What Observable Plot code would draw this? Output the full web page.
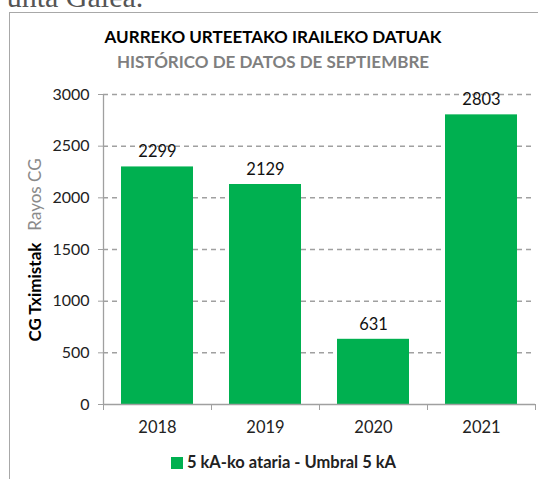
<!DOCTYPE html>
<html>
<head>
<meta charset="utf-8">
<script src="https://cdn.jsdelivr.net/npm/d3@7"></script>
<script src="https://cdn.jsdelivr.net/npm/@observablehq/plot@0.6"></script>
<style>
  html, body { margin: 0; padding: 0; background: #fff; }
  body { width: 539px; height: 479px; position: relative; overflow: hidden; font-family: Lato, "Open Sans", sans-serif; }
  #top { position: absolute; left: -10px; top: -18px; font-family: "Liberation Serif", serif; font-size: 30px; line-height: 30px; color: #555; white-space: nowrap; }
  #frame { position: absolute; left: 9px; top: 12px; width: 528px; height: 480px; border-left: 1.5px solid #a8a8a8; border-top: 1.5px solid #a8a8a8; }
  #title { position: absolute; left: 9px; width: 528px; top: 26px; text-align: center; font-weight: bold; font-size: 17px; color: #000; }
  #subtitle { position: absolute; left: 9px; width: 528px; top: 51px; text-align: center; font-weight: bold; font-size: 17px; color: #7f7f7f; }
  #chart { position: absolute; left: 0; top: 0; }
  #legend { position: absolute; left: 14px; width: 539px; top: 452px; text-align: center; font-size: 16.5px; font-weight: bold; color: #222; }
  #legend .sw { display: inline-block; width: 12px; height: 12px; background: #00b050; margin-right: 4px; vertical-align: -1px; }
</style>
</head>
<body>
<div id="top">Punta Galea.</div>
<div id="frame"></div>
<div id="title">AURREKO URTEETAKO IRAILEKO DATUAK</div>
<div id="subtitle">HISTÓRICO DE DATOS DE SEPTIEMBRE</div>
<div id="chart"></div>
<div id="legend"><span class="sw"></span>5 kA-ko ataria - Umbral 5 kA</div>
<script>
const years = [2018, 2019, 2020, 2021];
const values = [2299, 2129, 631, 2803];
const yTicks = [0, 500, 1000, 1500, 2000, 2500, 3000];
const seriesName = "5 kA-ko ataria - Umbral 5 kA";

const data = years.map((y, i) => ({year: y, value: values[i]}));
const bounds = years.map(y => y - 0.5).concat([years[years.length - 1] + 0.5]);
const green = "#00b050";
const axisGray = "#a0a0a0";
const font = "Lato, 'Open Sans', sans-serif";

const plot = Plot.plot({
  width: 539,
  height: 479,
  marginTop: 94,
  marginBottom: 75,
  marginLeft: 103,
  marginRight: 4,
  style: {fontFamily: font, background: "transparent", overflow: "visible"},
  x: {domain: [bounds[0], bounds[bounds.length - 1]]},
  y: {domain: [0, 3000]},
  marks: [
    Plot.gridY(yTicks.filter(d => d > 0), {stroke: "#a0a0a0", strokeOpacity: 1, strokeDasharray: "5,4", strokeWidth: 1.5}),
    Plot.rectY(data, {x1: d => d.year - 0.5, x2: d => d.year + 0.5, y: "value", fill: green, insetLeft: 18, insetRight: 18}),
    Plot.ruleY([0], {stroke: axisGray, strokeWidth: 1.3}),
    Plot.ruleX([bounds[0]], {stroke: axisGray, strokeWidth: 1.3}),
    Plot.axisY({ticks: yTicks, tickSize: 5, stroke: axisGray, tickPadding: 9, fontSize: 16, fill: "#222", tickFormat: d => String(d), label: null}),
    Plot.axisX({ticks: bounds, tickSize: 6, stroke: axisGray, tickFormat: () => "", label: null}),
    Plot.axisX({ticks: years, tickSize: 0, tickPadding: 17, fontSize: 16.5, fill: "#222", tickFormat: d => String(d), label: null}),
    Plot.text(data, {x: "year", y: "value", text: d => String(d.value), dy: -15, fontSize: 16.5, fill: "#111"})
  ]
});
document.getElementById("chart").appendChild(plot);

// two-tone rotated y-axis title
const svg = d3.select(plot);
const t = svg.append("text")
  .attr("transform", "translate(41,250) rotate(-90)")
  .attr("text-anchor", "middle")
  .attr("font-size", 17)
  .attr("font-family", font);
t.append("tspan").attr("font-weight", "bold").attr("fill", "#000").text("CG Tximistak");
t.append("tspan").attr("fill", "#8a8a8a").attr("dx", 12).text("Rayos CG");
</script>
</body>
</html>
